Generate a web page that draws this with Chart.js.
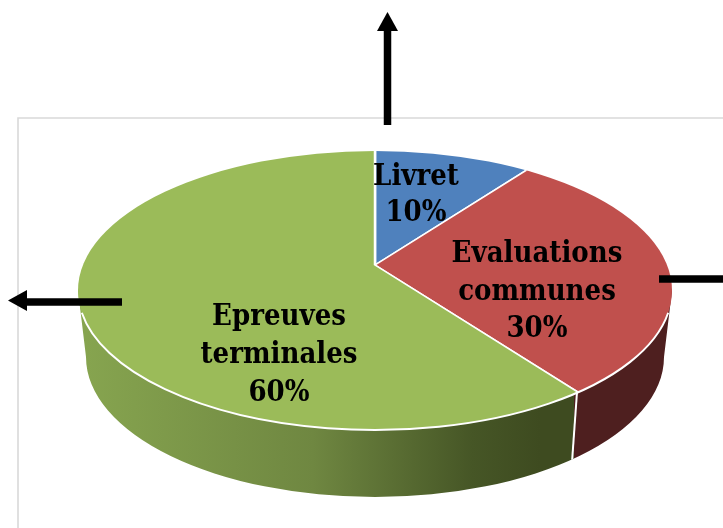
<!DOCTYPE html>
<html><head><meta charset="utf-8">
<script src="https://cdn.jsdelivr.net/npm/chart.js@4/dist/chart.umd.js"></script>
<style>html,body{margin:0;padding:0;background:#fff}canvas{display:block}</style></head>
<body><canvas id="c" width="723" height="528" style="width:723px;height:528px"></canvas>
<script>
const categories = ["Livret", "Evaluations communes", "Epreuves terminales"];
const values = [10, 30, 60];
const sliceColors = ["#4f81bd", "#c0504d", "#9bbb59"];
const labelLines = [["Livret"], ["Evaluations", "communes"], ["Epreuves", "terminales"]];

// layout of the tilted disc
const APEX = {x: 375, y: 265};
const TOP = {x: 375, y: 290.5, rx: 297, ry: 139.5};
const LOW = {x: 375, y: 357, rx: 289, ry: 140};
const TILT = 0.455;
const LABEL_POS = [{x: 416, y: 185, lh: 36}, {x: 537, y: 262, lh: 37.5}, {x: 279, y: 325, lh: 38}];
const FONT = 'bold 29px "DejaVu Serif Condensed", "DejaVu Serif", serif';

function wallPath(ctx) {
  ctx.beginPath();
  ctx.moveTo(LOW.x - LOW.rx, LOW.y);
  ctx.ellipse(LOW.x, LOW.y, LOW.rx, LOW.ry, 0, Math.PI, 0, true);
  ctx.lineTo(TOP.x + TOP.rx, TOP.y);
  ctx.lineTo(TOP.x - TOP.rx, TOP.y);
  ctx.closePath();
}
function line(ctx, x0, y0, x1, y1, w, col) {
  ctx.strokeStyle = col; ctx.lineWidth = w; ctx.lineCap = 'butt';
  ctx.beginPath(); ctx.moveTo(x0, y0); ctx.lineTo(x1, y1); ctx.stroke();
}
function tri(ctx, pts) {
  ctx.fillStyle = '#000'; ctx.beginPath();
  pts.forEach((p, i) => i ? ctx.lineTo(p[0], p[1]) : ctx.moveTo(p[0], p[1]));
  ctx.closePath(); ctx.fill();
}

const disc = {
  id: 'disc',
  beforeDatasetsDraw(chart) {
    const ctx = chart.ctx;
    ctx.save();
    ctx.strokeStyle = '#d9d9d9'; ctx.lineWidth = 1.6;
    ctx.beginPath(); ctx.moveTo(18, 528); ctx.lineTo(18, 118); ctx.lineTo(723, 118); ctx.stroke();
    const split = 574;
    const g = ctx.createLinearGradient(86, 0, 540, 0);
    g.addColorStop(0, '#86a44f'); g.addColorStop(0.5, '#6f8741');
    g.addColorStop(0.85, '#465626'); g.addColorStop(1, '#3e4b20');
    ctx.save(); wallPath(ctx); ctx.clip();
    ctx.fillStyle = g; ctx.fillRect(0, 280, split, 248);
    ctx.fillStyle = '#4e1f1f'; ctx.fillRect(split, 280, 200, 248);
    line(ctx, 577, 392, 572, 462, 2, '#fff');
    ctx.restore();
    // top face: the library's arcs, clipped and tilted until afterDatasetsDraw
    ctx.save();
    ctx.beginPath(); ctx.ellipse(TOP.x, TOP.y, TOP.rx, TOP.ry, 0, 0, Math.PI * 2); ctx.clip();
    ctx.translate(APEX.x, APEX.y); ctx.scale(1, TILT); ctx.translate(-APEX.x, -APEX.y);
  },
  afterDatasetsDraw(chart) {
    const ctx = chart.ctx;
    ctx.restore();
    ctx.restore();
    ctx.save();
    ctx.strokeStyle = '#fff'; ctx.lineWidth = 2;
    ctx.beginPath();
    ctx.ellipse(TOP.x, TOP.y, TOP.rx, TOP.ry, 0, 0.16, Math.PI - 0.16);
    ctx.stroke();
    ctx.fillStyle = '#000'; ctx.font = FONT; ctx.textAlign = 'center'; ctx.textBaseline = 'alphabetic';
    labelLines.forEach((lines, i) => {
      const p = LABEL_POS[i];
      lines.concat(values[i] + '%').forEach((t, j) => ctx.fillText(t, p.x, p.y + j * p.lh));
    });
    line(ctx, 387.5, 125, 387.5, 29, 7.5, '#000');
    tri(ctx, [[387.5, 12], [398, 31], [377, 31]]);
    line(ctx, 122, 302, 25, 302, 7.5, '#000');
    tri(ctx, [[8, 300.5], [27, 290], [27, 311]]);
    line(ctx, 659, 279, 723, 279, 7.5, '#000');
    ctx.restore();
  }
};

new Chart(document.getElementById('c'), {
  type: 'pie',
  data: {
    labels: categories,
    datasets: [{
      data: values,
      backgroundColor: sliceColors,
      borderColor: '#fff',
      borderWidth: 2.5,
      clip: false
    }]
  },
  options: {
    responsive: false,
    animation: false,
    radius: 420,
    layout: {padding: {left: 27, top: 2}},
    plugins: {legend: {display: false}, tooltip: {enabled: false}}
  },
  plugins: [disc]
});
</script></body></html>
